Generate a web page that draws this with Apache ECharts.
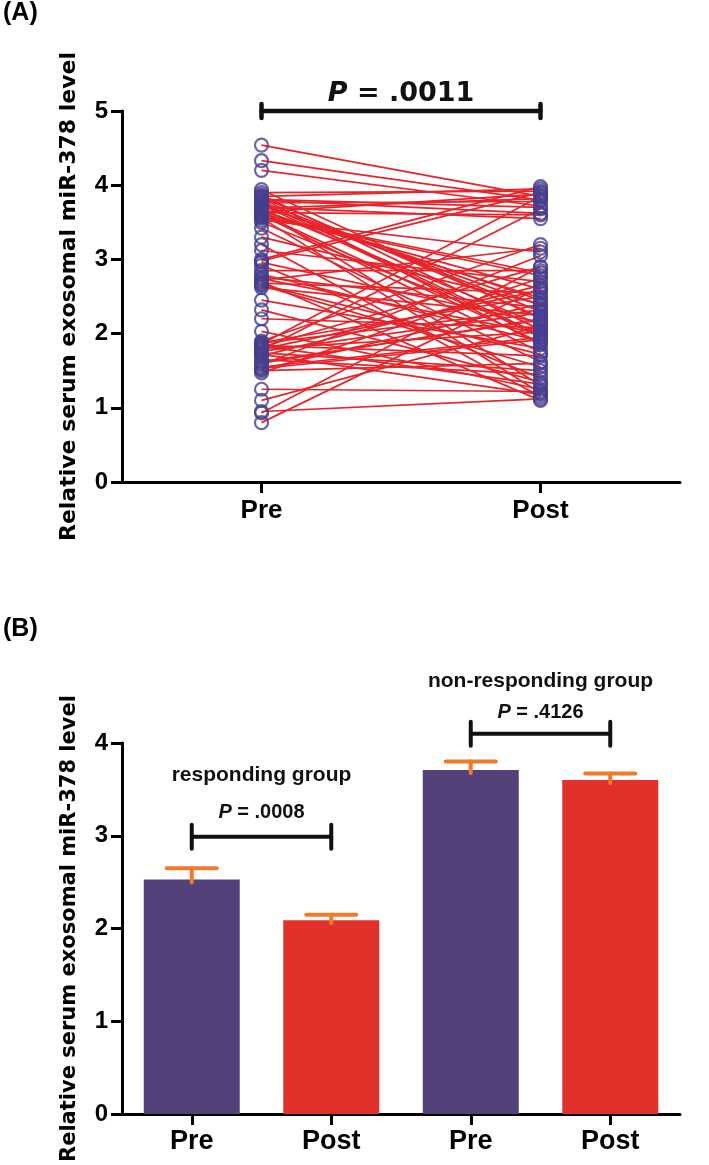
<!DOCTYPE html>
<html><head><meta charset="utf-8">
<script src="https://cdn.jsdelivr.net/npm/echarts@6/dist/echarts.min.js"></script>
<style>html,body{margin:0;padding:0;background:#fff}#c{width:709px;height:1165px}</style>
</head><body><div id="c"></div>
<script>
// ---------- Panel A data ----------
const categoriesA = ['Pre', 'Post'];
const preValues = [4.54, 4.33, 4.20, 3.94, 3.90, 3.87, 3.85, 3.83, 3.80, 3.78, 3.76, 3.74, 3.72, 3.70, 3.68, 3.66,
  3.64, 3.62, 3.60, 3.58, 3.56, 3.53, 3.50, 3.42, 3.30, 3.20, 3.12, 3.00, 2.96, 2.92, 2.85, 2.80,
  2.76, 2.72, 2.70, 2.68, 2.65, 2.62, 2.45, 2.32, 2.20, 2.03, 1.90, 1.88, 1.86, 1.84, 1.82, 1.80,
  1.78, 1.76, 1.74, 1.70, 1.65, 1.62, 1.58, 1.55, 1.52, 1.50, 1.47, 1.25, 1.10, 0.95, 0.93, 0.80,
  3.84, 3.81, 3.77, 3.73, 3.69, 3.65, 3.61, 3.57, 3.63, 1.87, 1.83, 1.79, 1.72, 1.60, 1.53, 2.74,
  2.98, 2.66];
const postValues = [3.85, 3.80, 3.72, 2.20, 3.92, 2.05, 3.95, 1.85, 3.62, 2.30, 3.78, 1.95, 2.45, 3.55, 2.12, 1.30,
  3.88, 2.60, 1.75, 2.82, 1.20, 3.10, 2.00, 1.62, 2.40, 1.15, 2.70, 3.98, 2.15, 1.40, 2.85, 1.90,
  2.35, 3.15, 1.10, 2.55, 1.55, 2.25, 1.80, 1.35, 2.08, 1.25, 3.20, 2.50, 3.85, 1.70, 2.90, 2.02,
  3.68, 2.28, 1.50, 2.65, 1.45, 2.18, 3.05, 1.95, 2.40, 1.60, 2.75, 1.22, 2.10, 1.12, 2.90, 2.62,
  2.22, 3.70, 1.98, 2.38, 3.82, 2.48, 1.88, 2.78, 3.60, 2.32, 1.32, 2.58, 1.18, 2.20, 1.92, 2.00,
  3.90, 1.72];
const yTicksA = [0, 1, 2, 3, 4, 5];
const pLabelA = 'P = .0011';

// ---------- Panel B data ----------
const categoriesB = ['Pre', 'Post', 'Pre', 'Post'];
const barMeans = [2.53, 2.09, 3.71, 3.60];
const barErrors = [0.12, 0.06, 0.09, 0.07];
const yTicksB = [0, 1, 2, 3, 4];
const groupNames = ['responding group', 'non-responding group'];
const groupPLabels = ['P = .0008', 'P = .4126'];

// ---------- layout / style (not data) ----------
const bracketA = { from: 0, to: 1, y: 5.0, textY: 5.23 };
const bracketsB = [
  { from: 0, to: 1, y: 2.99, pY: 3.256, nameY: 3.65 },
  { from: 2, to: 3, y: 4.10, pY: 4.33, nameY: 4.67 }
];
const FONT = '"Liberation Sans", Arial, sans-serif';
const WIDE = '"DejaVu Sans", sans-serif';
const PURPLE = '#53427A', RED = '#E2302A', ORANGE = '#F07A2A', LINE_RED = '#E8242A', CIRCLE = '#453E8E';
const barColors = [PURPLE, RED, PURPLE, RED];
const yTitle = 'Relative serum exosomal miR-378 level';

function axisCommon(fontSize, margin, alignTick) {
  return {
    axisLine: { show: true, lineStyle: { color: '#000', width: 3 } },
    axisTick: { show: true, alignWithLabel: !!alignTick, length: 11, lineStyle: { color: '#000', width: 3 } },
    axisLabel: { color: '#000', fontWeight: 'bold', fontSize: fontSize, fontFamily: FONT, margin: margin },
    splitLine: { show: false }
  };
}

const series = [];
// Paired lines
preValues.forEach((v, i) => {
  series.push({
    type: 'line', xAxisIndex: 0, yAxisIndex: 0, silent: true, symbol: 'none',
    data: [[0, v], [1, postValues[i]]],
    lineStyle: { color: LINE_RED, width: 1.7 }, z: 2
  });
});
// Circles
series.push({
  type: 'scatter', xAxisIndex: 0, yAxisIndex: 0, symbol: 'circle', symbolSize: 13,
  data: preValues.map(v => [0, v]).concat(postValues.map(v => [1, v])),
  itemStyle: { color: 'rgba(255,255,255,0)', borderColor: CIRCLE, borderWidth: 2.2 }, z: 3
});

function bracket(api, x1, x2, y, capHalf, lw) {
  const p1 = api.coord([x1, y]), p2 = api.coord([x2, y]);
  const st = { stroke: '#111', lineWidth: lw, lineCap: 'round' };
  return [
    { type: 'line', shape: { x1: p1[0], y1: p1[1], x2: p2[0], y2: p2[1] }, style: st },
    { type: 'line', shape: { x1: p1[0], y1: p1[1] - capHalf, x2: p1[0], y2: p1[1] + capHalf }, style: st },
    { type: 'line', shape: { x1: p2[0], y1: p2[1] - capHalf, x2: p2[0], y2: p2[1] + capHalf }, style: st }
  ];
}
function pText(label) { return label.replace(/^P/, '{i|P}'); }

// Panel A bracket
series.push({
  type: 'custom', xAxisIndex: 0, yAxisIndex: 0, z: 5, clip: false,
  data: [[bracketA.from, bracketA.y]],
  renderItem: (params, api) => {
    const els = bracket(api, bracketA.from, bracketA.to, bracketA.y, 7, 4.5);
    const a = api.coord([bracketA.from, bracketA.textY]), b = api.coord([bracketA.to, bracketA.textY]);
    els.push({ type: 'text', style: {
      x: (a[0] + b[0]) / 2, y: a[1], text: pText(pLabelA), align: 'center', verticalAlign: 'middle',
      fontSize: 27, fontWeight: 'bold', fontFamily: WIDE, fill: '#111',
      rich: { i: { fontSize: 27, fontWeight: 'bold', fontStyle: 'italic', fontFamily: WIDE, fill: '#111' } }
    } });
    return { type: 'group', children: els };
  }
});

// Panel B bars
series.push({
  type: 'bar', xAxisIndex: 1, yAxisIndex: 1, barWidth: 96,
  data: barMeans.map((v, i) => ({ value: v, itemStyle: { color: barColors[i] } })), z: 2
});
// Error bars
series.push({
  type: 'custom', xAxisIndex: 1, yAxisIndex: 1, z: 4,
  data: barMeans.map((m, i) => [i, m, barErrors[i]]),
  renderItem: (params, api) => {
    const i = api.value(0), m = api.value(1), e = api.value(2);
    const top = api.coord([i, m + e]), base = api.coord([i, m]);
    const st = { stroke: ORANGE, lineWidth: 4, lineCap: 'round' };
    return { type: 'group', children: [
      { type: 'line', shape: { x1: top[0], y1: top[1], x2: base[0], y2: base[1] + 3 }, style: st },
      { type: 'line', shape: { x1: top[0] - 25, y1: top[1], x2: top[0] + 25, y2: top[1] }, style: st }
    ] };
  }
});
// Panel B brackets + labels
series.push({
  type: 'custom', xAxisIndex: 1, yAxisIndex: 1, z: 5, clip: false,
  data: bracketsB.map((b, k) => [b.from, b.y, k]),
  renderItem: (params, api) => {
    const k = params.dataIndex, b = bracketsB[k];
    const els = bracket(api, b.from, b.to, b.y, 12, 4);
    const a1 = api.coord([b.from, b.pY]), a2 = api.coord([b.to, b.pY]);
    const n1 = api.coord([b.from, b.nameY]), n2 = api.coord([b.to, b.nameY]);
    els.push({ type: 'text', style: {
      x: (a1[0] + a2[0]) / 2, y: a1[1], text: pText(groupPLabels[k]), align: 'center', verticalAlign: 'middle',
      fontSize: 20, fontWeight: 'bold', fontFamily: FONT, fill: '#111',
      rich: { i: { fontSize: 20, fontWeight: 'bold', fontStyle: 'italic', fontFamily: FONT, fill: '#111' } }
    } });
    els.push({ type: 'text', style: {
      x: (n1[0] + n2[0]) / 2, y: n1[1], text: groupNames[k], align: 'center', verticalAlign: 'middle',
      fontSize: 21, fontWeight: 'bold', fontFamily: FONT, fill: '#111'
    } });
    return { type: 'group', children: els };
  }
});

const chart = echarts.init(document.getElementById('c'), null, { renderer: 'canvas' });
chart.setOption({
  animation: false,
  backgroundColor: '#ffffff',
  grid: [
    { left: 122, top: 111, width: 558, height: 371 },
    { left: 122, top: 743, width: 558, height: 372 }
  ],
  xAxis: [
    Object.assign(axisCommon(26, 16, true), { type: 'category', gridIndex: 0, data: categoriesA }),
    Object.assign(axisCommon(27, 14, true), { type: 'category', gridIndex: 1, data: categoriesB })
  ],
  yAxis: [
    Object.assign(axisCommon(24, 14), { type: 'value', gridIndex: 0, min: yTicksA[0], max: yTicksA[yTicksA.length - 1], interval: 1,
      name: yTitle, nameLocation: 'middle', nameGap: 42,
      nameTextStyle: { color: '#000', fontWeight: 'bold', fontSize: 22, fontFamily: WIDE } }),
    Object.assign(axisCommon(24, 14), { type: 'value', gridIndex: 1, min: yTicksB[0], max: yTicksB[yTicksB.length - 1], interval: 1,
      name: yTitle, nameLocation: 'middle', nameGap: 42,
      nameTextStyle: { color: '#000', fontWeight: 'bold', fontSize: 21, fontFamily: WIDE } })
  ],
  graphic: [
    { type: 'text', left: 3, top: 1, style: { text: '(A)', fontSize: 25, fontWeight: 'bold', fontFamily: FONT, fill: '#000' } },
    { type: 'text', left: 3, top: 617, style: { text: '(B)', fontSize: 25, fontWeight: 'bold', fontFamily: FONT, fill: '#000' } }
  ],
  series: series
});
</script>
</body></html>
